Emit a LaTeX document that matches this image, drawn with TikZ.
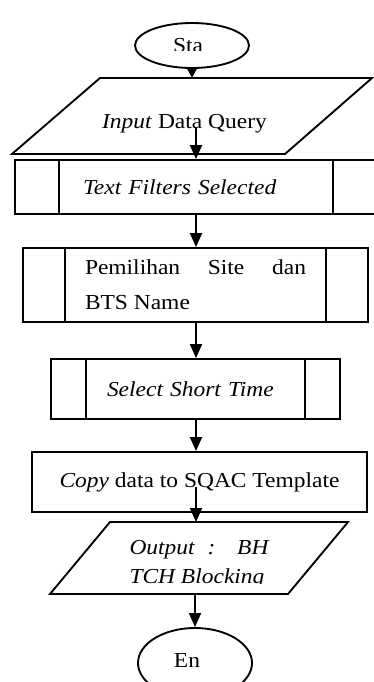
\documentclass[tikz,border=0pt]{standalone}
\usepackage{fontspec}
\setmainfont{Liberation Serif}[FakeStretch=1.1]
\usetikzlibrary{shapes.geometric}
\usetikzlibrary{arrows.meta}
\usetikzlibrary{calc}

\newcommand\px{0.75pt}

\begin{document}
\begin{tikzpicture}[x=0.75pt, y=-0.75pt, line width=1.4pt,
    every node/.style={font=\fontsize{16}{19}\selectfont, inner sep=0pt},
    term/.style={draw, ellipse, minimum width=114*\px},
    box/.style={draw, rectangle},
    flow/.style={-{Triangle[length=10.5pt, width=9pt]}},
    smallflow/.style={-{Triangle[length=6.75pt, width=6.75pt]}}]
    \newcommand\sidebars[2]{%
    \draw ([xshift=#2*\px]#1.north west) -- ([xshift=#2*\px]#1.south west);
    \draw ([xshift=-#2*\px]#1.north east) -- ([xshift=-#2*\px]#1.south east);}

\useasboundingbox (0,0) rectangle (374,682);

% terminators
\node[term, minimum height=45*\px] (start) at (192,45.5) {};
\node[term, minimum height=70*\px] (stop) at (195,663) {};

\begin{scope}
    \clip (start.west |- start.north) rectangle ([yshift=-4.5*\px]start.east);
    \node[anchor=base] (starttxt) at (188,52.5) {Sta};
\end{scope}

\begin{scope}
    \clip (stop.west |- stop.north) rectangle ([yshift=-3*\px]stop.east);
    \node[anchor=base] (stoptxt) at (187,667.5) {En};
\end{scope}

% input / output
\draw (12,154) coordinate (input-bl) -- (285,154)
    -- (372,78) coordinate (input-tr) -- (100,78) -- cycle;
\node[anchor=base] (inputtxt) at (184.5,128) {\textit{Input} Data Query};

\draw (50,594) coordinate (output-bl) -- (288,594)
    -- (348,522) coordinate (output-tr) -- (110,522) -- cycle;

\begin{scope}
    \clip (output-bl |- output-tr) rectangle (output-tr |- 0,583);
    \node[anchor=north, text width=139*\px, align=justify,
        font=\fontsize{16}{21.75}\selectfont] (outputtxt) at (199,539.5)
        {\textit{Output : BH\linebreak TCH Blocking}};
\end{scope}

% processes
\node[box, minimum width=362*\px, minimum height=54*\px,
    text width=226*\px, align=left] (filters) at (196,187) {\textit{Text Filters Selected}};
\sidebars{filters}{45}

\node[box, minimum width=345*\px, minimum height=74*\px,
    text width=221*\px, align=justify,
    font=\fontsize{16}{26.25}\selectfont] (site) at (195.5,285)
    {Pemilihan Site dan\linebreak BTS Name};
\sidebars{site}{43}

\node[box, minimum width=289*\px, minimum height=60*\px,
    text width=177*\px, align=left] (select) at (195.5,389) {\textit{Select Short Time}};
\sidebars{select}{36}

\node[box, minimum width=335*\px, minimum height=60*\px] (copy) at (199.5,482)
    {\textit{Copy} data to SQAC Template};

% connectors
\draw[smallflow] (start.south) -- (start.south |- input-tr);
\draw[flow] (inputtxt.base -| filters.north) -- (filters.north);
\draw[flow] (filters.south) -- (filters.south |- site.north);
\draw[flow] (site.south -| filters.south) -- (filters.south |- select.north);
\draw[flow] (select.south -| filters.south) -- (filters.south |- copy.north);
\draw[flow] (copy.base -| filters.south) -- (filters.south |- output-tr);
\draw[flow] (stop.north |- output-bl) -- (stop.north);
\end{tikzpicture}
\end{document}
